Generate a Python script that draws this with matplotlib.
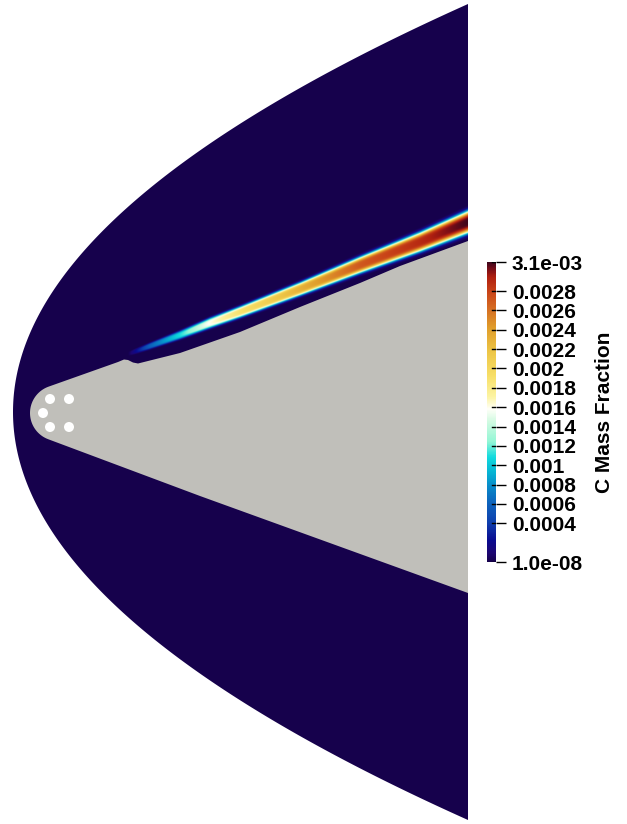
import numpy as np
import matplotlib
matplotlib.use("Agg")
import matplotlib.pyplot as plt
from matplotlib.colors import LinearSegmentedColormap, Normalize
from matplotlib.patches import Polygon, Circle
from matplotlib.cm import ScalarMappable

plt.rcParams['font.family'] = ['Liberation Sans', 'DejaVu Sans']
plt.rcParams['font.weight'] = 'bold'

# colour map (ParaView "Blue Orange (divergent)" look), positions 0..1
cmap_pos = [0.0, 0.03, 0.07, 0.13, 0.20, 0.25, 0.30, 0.35, 0.40, 0.47, 0.51,
            0.55, 0.62, 0.70, 0.78, 0.85, 0.90, 0.95, 0.975, 1.0]
cmap_rgb = [(22, 1, 76), (29, 6, 115), (10, 10, 143), (14, 62, 173), (13, 101, 189),
            (8, 137, 201), (6, 181, 212), (18, 218, 222), (146, 246, 213), (211, 250, 226),
            (255, 255, 248), (252, 244, 164), (247, 223, 104), (237, 198, 71), (224, 158, 43),
            (212, 105, 34), (201, 68, 24), (176, 32, 16), (125, 14, 22), (62, 6, 28)]

# value range and colour bar ticks
c_min = 1e-8
c_max = 3.1e-3
cbar_ticks = [1e-8, 0.0004, 0.0006, 0.0008, 0.001, 0.0012, 0.0014, 0.0016,
              0.0018, 0.002, 0.0022, 0.0024, 0.0026, 0.0028, 3.1e-3]
cbar_labels = ['1.0e-08', '0.0004', '0.0006', '0.0008', '0.001', '0.0012', '0.0014',
               '0.0016', '0.0018', '0.002', '0.0022', '0.0024', '0.0026', '0.0028', '3.1e-03']

# shock (domain) boundary, in picture units
shock_nose_x = 13.0
shock_axis_y = 412.0
shock_top_y = 4.0
shock_bottom_y = 820.0
domain_right_x = 468.0

# body outline (upper surface from right to the nose, lower surface from nose to right)
upper_x = [468, 400, 360, 300, 240, 180, 138, 133, 128, 124, 118]
upper_y = [241, 266, 283, 307, 332, 353, 363.5, 362.5, 360, 359.5, 362]
lower_x = [200, 468]
lower_y = [496, 593]
nose_cx, nose_cy, nose_r = 58.0, 413.0, 28.0
nose_a0, nose_a1 = 251.4, 109.9

# holes in the nose
hole_x = [50, 69, 43, 50, 69]
hole_y = [399, 399, 413, 427, 427]
hole_r = 5.0

# carbon streak: stations along x, centre line, peak value and half width
jet_x = [128, 150, 180, 210, 240, 300, 360, 420, 468]
jet_y = [354, 346, 335, 323, 312, 289, 265, 242, 222]
jet_peak = [0.0, 0.0006, 0.0011, 0.0016, 0.0019, 0.0023, 0.0027, 0.0029, 0.0031]
jet_w = [2.0, 3.0, 4.0, 5.0, 5.5, 6.5, 8.0, 9.5, 11.0]

cmap = LinearSegmentedColormap.from_list(
    'blue_orange', list(zip(cmap_pos, [tuple(v / 255 for v in c) for c in cmap_rgb])), N=512)
norm = Normalize(c_min, c_max)

fig = plt.figure(figsize=(6.27, 8.24), dpi=100)
ax = fig.add_axes([0, 0, 1, 1])
ax.set_xlim(0, 627)
ax.set_ylim(824, 0)
ax.axis('off')

# field
gx = np.arange(0, domain_right_x, 0.5) + 0.25
gy = np.arange(0, 824, 0.5) + 0.25
X, Y = np.meshgrid(gx, gy)
yc = np.interp(X, jet_x, jet_y)
pk = np.interp(X, jet_x, jet_peak)
w = np.interp(X, jet_x, jet_w)
field = c_min + pk * np.exp(-((Y - yc) / w) ** 4)
im = ax.imshow(field, cmap=cmap, norm=norm, extent=(0, domain_right_x, 824, 0),
               origin='upper', interpolation='bilinear', aspect='auto')

# clip to the shock
a = (domain_right_x - shock_nose_x) / (shock_axis_y - shock_top_y) ** 2
sy = np.linspace(shock_top_y, shock_bottom_y, 300)
sx = shock_nose_x + a * (sy - shock_axis_y) ** 2
shock = Polygon(np.column_stack([sx, sy]), closed=True, facecolor='none',
                edgecolor='none', transform=ax.transData)
ax.add_patch(shock)
im.set_clip_path(shock)

# body
t = np.radians(np.linspace(nose_a0, nose_a1, 40))
nx = nose_cx + nose_r * np.cos(t)
ny = nose_cy + nose_r * np.sin(t)
bx = list(upper_x) + list(nx) + list(lower_x)
by = list(upper_y) + list(ny) + list(lower_y)
ax.add_patch(Polygon(np.column_stack([bx, by]), closed=True, facecolor='#c0bfba',
                     edgecolor='none', zorder=3))
for hx, hy in zip(hole_x, hole_y):
    ax.add_patch(Circle((hx, hy), hole_r, facecolor='white', edgecolor='none', zorder=4))

# colour bar
cax = fig.add_axes([487 / 627, 1 - 562 / 824, 9 / 627, 300 / 824])
sm = ScalarMappable(norm=norm, cmap=cmap)
cb = fig.colorbar(sm, cax=cax, ticks=cbar_ticks)
cb.set_ticklabels(cbar_labels)
cb.outline.set_visible(False)
cax.tick_params(length=7.5, width=1.0, pad=4, labelsize=15, colors='black')
for v in cbar_ticks:
    cax.plot([0.6, 1.0], [v, v], color='black', lw=1.0, transform=cax.get_yaxis_transform())
fig.text(605 / 627, 1 - 412 / 824, 'C Mass Fraction', rotation=90, ha='center',
         va='center', fontsize=15, fontweight='bold')

fig.savefig('out.png', dpi=100)
